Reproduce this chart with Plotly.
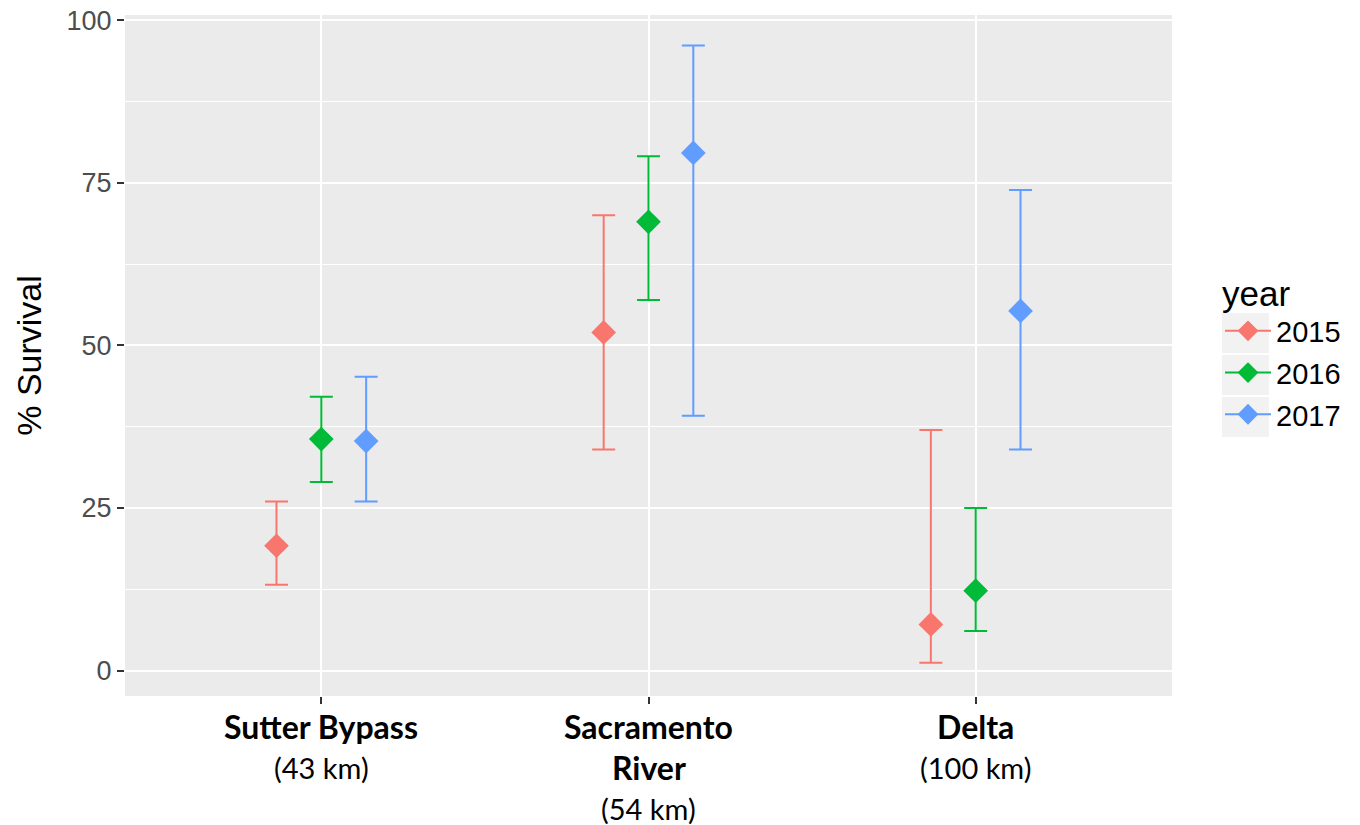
import plotly.graph_objects as go

# ---- data ----
categories = ["Sutter Bypass", "Sacramento River", "Delta"]
label_lines = [["Sutter Bypass"], ["Sacramento", "River"], ["Delta"]]
distances = ["(43 km)", "(54 km)", "(100 km)"]
years = ["2015", "2016", "2017"]
colors = ["#F8766D", "#00BA38", "#619CFF"]

est_2015 = [19.2, 52.0, 7.1]
low_2015 = [13.2, 34.0, 1.2]
high_2015 = [26.0, 70.0, 37.0]

est_2016 = [35.6, 69.0, 12.3]
low_2016 = [29.0, 57.0, 6.1]
high_2016 = [42.1, 79.1, 25.0]

est_2017 = [35.3, 79.6, 55.3]
low_2017 = [26.0, 39.2, 34.0]
high_2017 = [45.2, 96.1, 73.9]

y_ticks = [0, 25, 50, 75, 100]

series = [
    (est_2015, low_2015, high_2015),
    (est_2016, low_2016, high_2016),
    (est_2017, low_2017, high_2017),
]

dodge = 0.137
cat_pos = [i + 1 for i in range(len(categories))]

W, H = 1360, 825
ML, MR, MT, MB = 125, 188, 15, 129

fig = go.Figure()

for k, (yr, col, (est, lo, hi)) in enumerate(zip(years, colors, series)):
    off = (k - 1) * dodge
    xs = [p + off for p in cat_pos]
    fig.add_trace(go.Scatter(
        x=xs, y=est, mode="markers", name=yr, showlegend=False,
        marker=dict(symbol="diamond", size=19, color=col, line=dict(width=0)),
        error_y=dict(type="data", symmetric=False,
                     array=[h - e for h, e in zip(hi, est)],
                     arrayminus=[e - l for e, l in zip(est, lo)],
                     color=col, thickness=2, width=11.5),
    ))
    # legend entry (line through diamond like ggplot key)
    fig.add_trace(go.Scatter(
        x=[None], y=[None], mode="lines+markers", name=yr, legendgroup=yr,
        line=dict(color=col, width=2),
        marker=dict(symbol="diamond", size=19, color=col),
    ))

annotations = []
line_h = 41
first_center = 726
panel_bottom = H - MB
for pos, lines, dist in zip(cat_pos, label_lines, distances):
    all_lines = [("<b>%s</b>" % l, 32) for l in lines] + [(dist, 29)]
    for i, (txt, fs) in enumerate(all_lines):
        center = first_center + i * line_h
        annotations.append(dict(
            x=pos, y=0, xref="x", yref="paper", text=txt, showarrow=False,
            xanchor="center", yanchor="middle", yshift=-(center - panel_bottom),
            font=dict(family="Lato, Open Sans, sans-serif", size=fs, color="black"),
        ))

shapes = []
key_centers = [333, 375, 417]
for c in key_centers:
    shapes.append(dict(
        type="rect", xref="paper", yref="paper",
        x0=(1222 - ML) / (W - ML - MR), x1=(1269 - ML) / (W - ML - MR),
        y0=1 - (c - 20 - MT) / (H - MT - MB), y1=1 - (c + 20 - MT) / (H - MT - MB),
        fillcolor="#F2F2F2", line=dict(width=0), layer="below",
    ))

fig.update_layout(
    width=W, height=H,
    margin=dict(l=ML, r=MR, t=MT, b=MB, autoexpand=False),
    paper_bgcolor="white", plot_bgcolor="#EBEBEB",
    font=dict(family="Liberation Sans, Arial, sans-serif", color="black"),
    annotations=annotations,
    shapes=shapes,
    legend=dict(
        title=dict(text="year", font=dict(size=35, color="black")),
        font=dict(size=29, color="black"),
        xref="container", yref="container",
        x=1220 / W, xanchor="left", y=1 - 260 / H, yanchor="top",
        bgcolor="rgba(0,0,0,0)", tracegroupgap=1, itemwidth=46,
    ),
    showlegend=True,
)

fig.update_xaxes(
    range=[0.4, 3.6], tickvals=cat_pos, ticktext=["", "", ""],
    showgrid=True, gridcolor="white", gridwidth=2, zeroline=False,
    ticks="outside", ticklen=7, tickwidth=2, tickcolor="#333333",
    showline=False, automargin=False,
)
fig.update_yaxes(
    range=[-3.9, 100.8], tickvals=y_ticks,
    showgrid=True, gridcolor="white", gridwidth=2, zeroline=False,
    ticks="outside", ticklen=7, tickwidth=2, tickcolor="#333333",
    tickfont=dict(size=27, color="#4D4D4D"),
    minor=dict(dtick=12.5, tick0=0, showgrid=True, gridcolor="white", gridwidth=1, ticks=""),
    title=dict(text="% Survival", font=dict(size=34, color="black"), standoff=14),
    showline=False, automargin=False,
)

fig.write_html("out.html")
